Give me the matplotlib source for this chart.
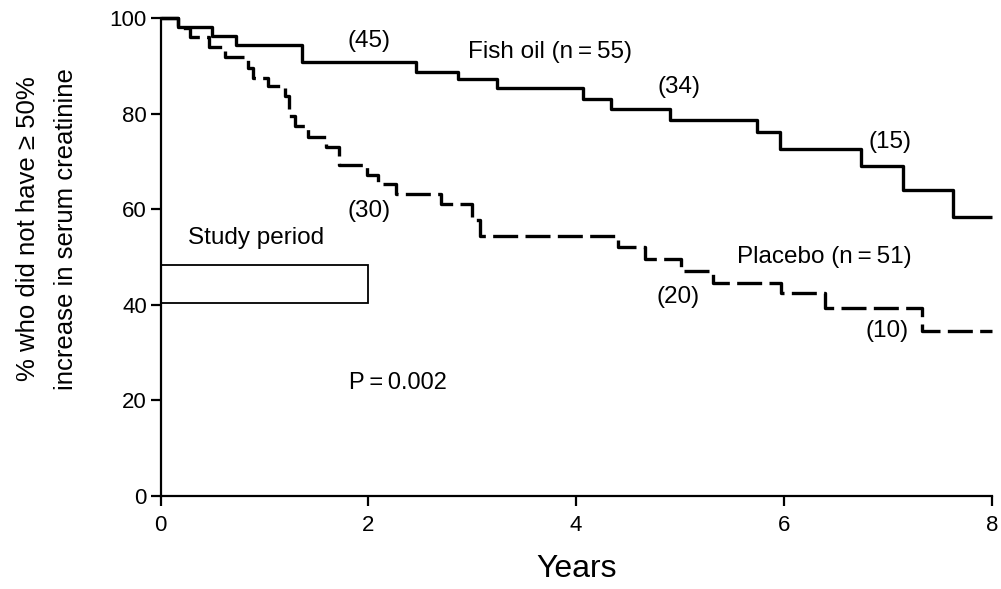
import matplotlib
matplotlib.use("Agg")
import matplotlib.pyplot as plt
from matplotlib.patches import Rectangle

plt.rcParams['font.family'] = ['Liberation Sans', 'DejaVu Sans']

# Kaplan-Meier step data (time in years, % after the step)
fish_t = [0, 0.17, 0.49, 0.73, 1.36, 2.46, 2.86, 3.24, 4.07, 4.34, 4.90, 5.74, 5.96, 6.74, 7.15, 7.63, 8.0]
fish_v = [100, 98.2, 96.4, 94.5, 90.9, 88.8, 87.2, 85.3, 83.1, 81.0, 78.8, 76.1, 72.6, 69.1, 64.0, 58.4, 58.4]

plac_t = [0, 0.17, 0.28, 0.47, 0.62, 0.84, 0.89, 1.03, 1.20, 1.24, 1.29, 1.42, 1.59, 1.72,
          1.99, 2.09, 2.27, 2.70, 3.00, 3.07, 4.40, 4.66, 5.01, 5.32, 5.97, 6.40, 7.33, 8.0]
plac_v = [100, 98.0, 96.1, 94.0, 91.8, 89.5, 87.6, 85.8, 83.8, 79.5, 77.4, 75.1, 73.0, 69.3,
          67.2, 65.2, 63.3, 61.0, 57.7, 54.5, 52.0, 49.6, 47.1, 44.6, 42.5, 39.3, 34.4, 34.4]

x_ticks = [0, 2, 4, 6, 8]
y_ticks = [0, 20, 40, 60, 80, 100]

# numbers at risk labels: (text, x, y)
at_risk = [("(45)", 2.01, 95.3), ("(34)", 4.99, 85.6), ("(15)", 7.02, 74.0),
           ("(30)", 2.01, 59.6), ("(20)", 4.98, 41.6), ("(10)", 6.99, 34.4)]
study_period = (0, 2, 40.4, 48.3)  # x0, x1, y0, y1

fig = plt.figure(figsize=(10.01, 5.89), dpi=100)
ax = fig.add_axes([0.1605, 0.1584, 0.8302, 0.8105])

ax.plot(fish_t, fish_v, drawstyle='steps-post', color='black', lw=2.4, solid_capstyle='butt', clip_on=False)
ax.plot(plac_t, plac_v, drawstyle='steps-post', color='black', lw=2.4, dashes=(7.5, 2.2), clip_on=False)

x0, x1, y0, y1 = study_period
ax.add_patch(Rectangle((x0, y0), x1 - x0, y1 - y0, fill=False, edgecolor='black', lw=1.3))

ax.set_xlim(0, 8)
ax.set_ylim(0, 100)
ax.set_xticks(x_ticks)
ax.set_yticks(y_ticks)
ax.spines['top'].set_visible(False)
ax.spines['right'].set_visible(False)
for s in ('left', 'bottom'):
    ax.spines[s].set_linewidth(1.6)
ax.tick_params(axis='both', direction='out', length=7, width=1.6, labelsize=16)
ax.tick_params(axis='x', pad=7)
ax.tick_params(axis='y', pad=3)

fs = 17.5
for txt, x, y in at_risk:
    ax.text(x, y, txt, ha='center', va='center', fontsize=fs)
ax.text(3.75, 93.0, "Fish oil (n\u2009=\u200955)", ha='center', va='center', fontsize=fs)
ax.text(6.39, 49.9, "Placebo (n\u2009=\u200951)", ha='center', va='center', fontsize=fs)
ax.text(0.26, 54.0, "Study period", ha='left', va='center', fontsize=fs)
ax.text(2.28, 23.7, "P\u2009=\u20090.002", ha='center', va='center', fontsize=17)

ax.set_xlabel("Years", fontsize=23, labelpad=13)
fig.text(0.028, 1 - 229 / 589, "% who did not have \u2265 50%", rotation=90,
         ha='center', va='center', fontsize=18.5)
fig.text(0.066, 1 - 229 / 589, "increase in serum creatinine", rotation=90,
         ha='center', va='center', fontsize=18.5)

fig.savefig("out.png", dpi=100)
